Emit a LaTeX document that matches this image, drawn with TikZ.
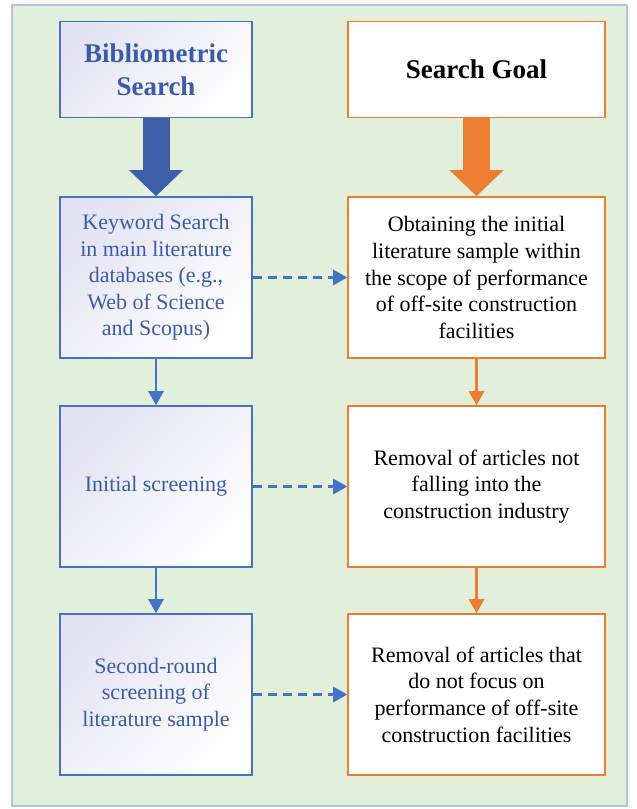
\documentclass[tikz,border=0pt]{standalone}
\usepackage{fontspec}
\setmainfont{LiberationSerif}[Extension=.ttf,UprightFont=*-Regular,BoldFont=*-Bold,ItalicFont=*-Italic,BoldItalicFont=*-BoldItalic]
\usetikzlibrary{arrows.meta}

\definecolor{bggreen}{HTML}{E2EFDA}
\definecolor{framegray}{HTML}{B4C3DC}
\definecolor{boxblue}{HTML}{4472C4}
\definecolor{textblue}{HTML}{3A5CA8}
\definecolor{arrowblue}{HTML}{3E5FA8}
\definecolor{boxorange}{HTML}{ED7D31}
\definecolor{lavender}{HTML}{E3E3F3}

\tikzset{
  bluebox/.style={draw=boxblue,line width=1.8pt,top color=lavender,bottom color=white,
    shading angle=45,text=textblue,align=center,minimum width=192pt,inner sep=0pt},
  orangebox/.style={draw=boxorange,line width=1.8pt,fill=white,align=center,
    minimum width=257pt,inner sep=0pt},
  headbox/.style={minimum height=96pt,font=\fontsize{27}{33}\selectfont\bfseries},
  tallbox/.style={minimum height=161pt,font=\fontsize{22}{26.6}\selectfont},
  bigarrow/.style={line width=27pt,-{Triangle[width=54pt,length=26pt,line width=0pt]}},
  thinarrow/.style={line width=2.2pt,-{Triangle[width=16pt,length=14pt,line width=0pt]}},
  dasharrow/.style={thinarrow,draw=boxblue,dash pattern=on 9pt off 6pt}
}

\begin{document}
\begin{tikzpicture}[x=1pt,y=-1pt]
\useasboundingbox (0,0) rectangle (637,809);
\draw[framegray,line width=1.5pt,fill=bggreen] (12,5) rectangle (627,806);

% left column
\node [bluebox,headbox] (bib) at(156,69.5){Bibliometric\\Search};
\node [bluebox,tallbox] (kw) at(156,277.5){Keyword Search\\in main literature\\databases (e.g.,\\Web of Science\\and Scopus)};
\node [bluebox,tallbox] (init) at(156,486.5){Initial screening};
\node [bluebox,tallbox] (sec) at(156,694.5){Second-round\\screening of\\literature sample};

% right column
\node [orangebox,headbox] (goal) at(476.5,69.5){Search Goal};
\node [orangebox,tallbox] (obt) at(476.5,277.5){Obtaining the initial\\literature sample within\\the scope of performance\\of off-site construction\\facilities};
\node [orangebox,tallbox] (rem1) at(476.5,486.5){Removal of articles not\\falling into the\\construction industry};
\node [orangebox,tallbox] (rem2) at(476.5,694.5){Removal of articles that\\do not focus on\\performance of off-site\\construction facilities};

\draw[bigarrow,arrowblue](bib) -- (kw);
\draw[bigarrow,boxorange](goal) -- (obt);

\draw[thinarrow,boxblue](kw) -- (init);
\draw[thinarrow,boxblue](init) -- (sec);
\draw[thinarrow,boxorange](obt) -- (rem1);
\draw[thinarrow,boxorange](rem1) -- (rem2);

\draw[dasharrow](kw) -- (obt);
\draw[dasharrow](init) -- (rem1);
\draw[dasharrow](sec) -- (rem2);
\end{tikzpicture}
\end{document}
